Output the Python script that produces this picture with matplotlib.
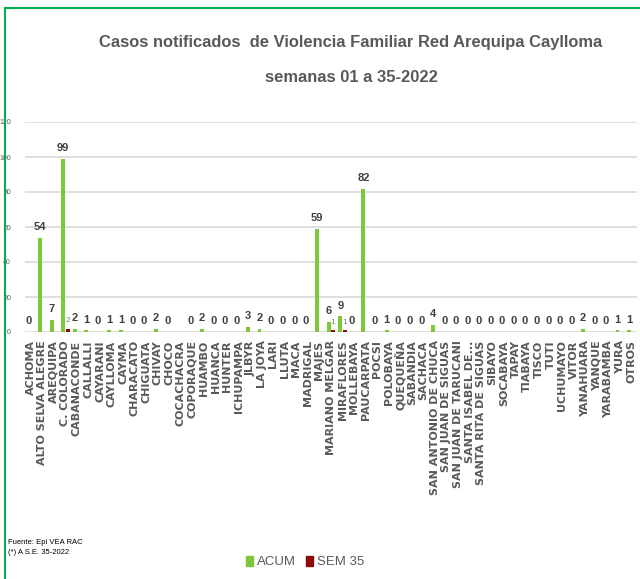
import numpy as np
import matplotlib
matplotlib.use("Agg")
import matplotlib.pyplot as plt
from matplotlib.patches import Rectangle
from matplotlib.lines import Line2D

# %%
distritos = [
    "ACHOMA", "ALTO SELVA ALEGRE", "AREQUIPA", "C. COLORADO", "CABANACONDE",
    "CALLALLI", "CAYARANI", "CAYLLOMA", "CAYMA", "CHARACATO", "CHIGUATA",
    "CHIVAY", "CHOCO", "COCACHACRA", "COPORAQUE", "HUAMBO", "HUANCA",
    "HUNTER", "ICHUPAMPA", "JLBYR", "LA JOYA", "LARI", "LLUTA", "MACA",
    "MADRIGAL", "MAJES", "MARIANO MELGAR", "MIRAFLORES", "MOLLEBAYA",
    "PAUCARPATA", "POCSI", "POLOBAYA", "QUEQUEÑA", "SABANDIA", "SACHACA",
    "SAN ANTONIO DE CHUCA", "SAN JUAN DE SIGUAS", "SAN JUAN DE TARUCANI",
    "SANTA ISABEL DE...", "SANTA RITA DE SIGUAS", "SIBAYO", "SOCABAYA",
    "TAPAY", "TIABAYA", "TISCO", "TUTI", "UCHUMAYO", "VITOR", "YANAHUARA",
    "YANQUE", "YARABAMBA", "YURA", "OTROS",
]

acum = [
    0, 54, 7, 99, 2,
    1, 0, 1, 1, 0, 0,
    2, 0, np.nan, 0, 2, 0,
    0, 0, 3, 2, 0, 0, 0,
    0, 59, 6, 9, 0,
    82, 0, 1, 0, 0, 0,
    4, 0, 0,
    0, 0, 0, 0,
    0, 0, 0, 0, 0, 0, 2,
    0, 0, 1, 1,
]

sem35 = {"C. COLORADO": 2, "MARIANO MELGAR": 1, "MIRAFLORES": 1}

titulo_1 = "Casos notificados  de Violencia Familiar Red Arequipa Caylloma"
titulo_2 = "semanas 01 a 35-2022"
fuente = "Fuente: Epi VEA RAC\n(*) A S.E. 35-2022"

# %%
narrow = ["Liberation Sans", "DejaVu Sans"]
verde = "#7cc83a"
rojo = "#8b0a0a"
gris = "#595959"

fig = plt.figure(figsize=(6.4, 5.79), dpi=100)
ax = fig.add_axes([25 / 640, 1 - 332 / 579, 612 / 640, 210 / 579])

x = np.arange(len(distritos))
sem = np.array([sem35.get(d, 0) for d in distritos])
acum_arr = np.array(acum, dtype=float)

w = 0.34
ax.bar(x - 0.19, np.nan_to_num(acum_arr), width=w, color=verde, zorder=3)
ax.bar(x + 0.19, sem, width=w, color=rojo, zorder=3)

for i, v in enumerate(acum_arr):
    if np.isnan(v):
        continue
    ax.annotate(f"{int(v)}", (x[i] - 0.19, v), xytext=(0, 4), textcoords="offset points",
                ha="center", va="bottom", fontsize=8, fontweight="bold",
                color="#404040", family=narrow)
for i, v in enumerate(sem):
    if v > 0:
        ax.annotate(f"{int(v)}", (x[i] + 0.19, v), xytext=(0, 3), textcoords="offset points",
                    ha="center", va="bottom", fontsize=6, color="#7f7f7f", family=narrow)

ax.set_xlim(-0.5, len(distritos) - 0.5)
ax.set_ylim(0, 120)
ax.set_yticks(range(0, 121, 20))
ax.yaxis.grid(True, color="#d9d9d9", linewidth=1.2, zorder=0)
ax.tick_params(axis="y", length=0, labelsize=5, labelcolor=gris, pad=10)
for t in ax.get_yticklabels():
    t.set_family(narrow)
ax.set_xticks(x)
ax.set_xticklabels(distritos, rotation=90, fontsize=8, fontweight="bold", color=gris)
ax.tick_params(axis="x", length=0, pad=6)
for s in ax.spines.values():
    s.set_visible(False)

fig.text(351 / 640, 1 - 43 / 579, titulo_1, ha="center", va="center", fontsize=11.9,
         fontweight="bold", color=gris, family=narrow)
fig.text(351 / 640, 1 - 77 / 579, titulo_2, ha="center", va="center", fontsize=11.9,
         fontweight="bold", color=gris, family=narrow)
fig.text(8 / 640, 1 - 548 / 579, fuente, ha="left", va="center", fontsize=5.5,
         color="black", family=narrow, linespacing=1.6)

handles = [Rectangle((0, 0), 1, 1, color=verde), Rectangle((0, 0), 1, 1, color=rojo)]
fig.legend(handles, ["ACUM", "SEM 35"], loc="center", bbox_to_anchor=(305 / 640, 1 - 562 / 579),
           ncol=2, frameon=False, handlelength=0.55, handleheight=0.8, handletextpad=0.25,
           columnspacing=0.8, prop={"family": narrow, "size": 9.5}, labelcolor=gris)

# green frame
fig.add_artist(Line2D([5 / 640, 5 / 640], [0, 1 - 8 / 579], color="#00b050", linewidth=1.5))
fig.add_artist(Line2D([5 / 640, 1], [1 - 8 / 579, 1 - 8 / 579], color="#00b050", linewidth=1.5))

fig.savefig("out.png", dpi=100)
